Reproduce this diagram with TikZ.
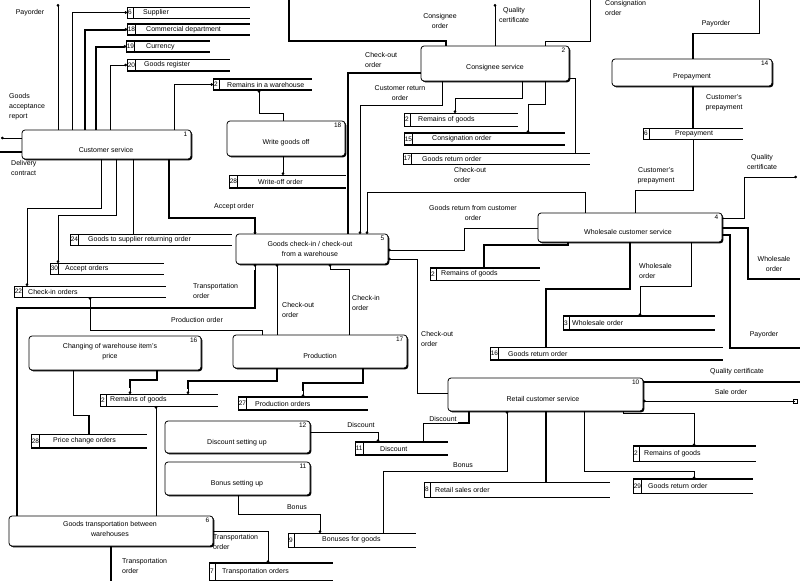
\documentclass[tikz,border=0pt]{standalone}
\usepackage{fontspec}
\setmainfont{Liberation Sans}
\usetikzlibrary{arrows.meta,shadows}
\tikzset{
  every node/.style={font=\fontsize{7}{10}\selectfont},
  procbox/.style={draw, line width=0.8pt, rounded corners=3pt, fill=white, inner sep=0pt, outer sep=0pt,
    drop shadow={shadow xshift=1.3pt, shadow yshift=-1.3pt, fill=black, opacity=1}},
  pnum/.style={inner sep=0.5pt, font=\fontsize{6.5}{7}\selectfont},
  ptext/.style={align=center, inner sep=0pt},
  storebox/.style={inner sep=0pt, outer sep=0pt},
  snum/.style={draw, line width=0.8pt, inner sep=0.8pt, outer sep=0pt, minimum width=6pt, font=\fontsize{6.5}{7}\selectfont},
  stext/.style={inner sep=0pt},
  lbl/.style={align=center, inner sep=0pt},
  lbll/.style={align=left, inner sep=0pt, anchor=north west},
  fl/.style={line width=0.8pt},
  flT/.style={line width=2pt},
  >={Circle[length=2.6pt]},
}
\newcommand\proc[6]{%
  \node[procbox, minimum width={#4pt-#2pt}, minimum height={#5pt-#3pt}, anchor=north west] (#1) at (#2,#3) {};
  \node[pnum, anchor=north east] (#1n) at ([xshift=-3pt,yshift=-1.5pt]#1.north east) {#6};}
\def\dstorelines#1#2\relax#3{%
  \draw[line width=#1] (#3.north west) -- (#3.north east);
  \draw[line width=#2] (#3.south west) -- (#3.south east);}
\newcommand\dstore[9]{%
  \node[storebox, minimum width={#4pt-#2pt}, minimum height={#5pt-#3pt}, anchor=north west] (#1) at (#2,#3) {};
  \node[snum, minimum height={#5pt-#3pt}, anchor=north west] (#1n) at (#1.north west) {#6};
  \node[stext, anchor=west] (#1t) at (#8,{(#3+#5)/2}) {#7};
  \dstorelines#9\relax{#1}}
\begin{document}
\begin{tikzpicture}[x=1pt,y=-1pt]
\useasboundingbox (0,0) rectangle (800,581);

% ---------- processes ----------
\proc{p1}{22}{130}{191}{159}{1}
\node[ptext] (p1t) at (106,150) {Customer service};
\proc{p2}{421}{46}{569}{81}{2}
\node[ptext] (p2t) at (495,68) {Consignee service};
\proc{p14}{612}{59}{772}{86}{14}
\node[ptext] (p14t) at (692,77) {Prepayment};
\proc{p18}{227}{121}{345}{156}{18}
\node[ptext] (p18t) at (286,143) {Write goods off};
\proc{p5}{236}{234}{388}{264}{5}
\node[ptext] (p5t) at (310,248.5) {Goods check-in / check-out\\from a warehouse};
\proc{p4}{538}{213}{722}{242}{4}
\node[ptext] (p4t) at (628,232) {Wholesale customer service};
\proc{p16}{29}{336}{201}{370}{16}
\node[ptext] (p16t) at (110,352) {Changing of warehouse item's\\price};
\proc{p17}{233}{335}{407}{368}{17}
\node[ptext] (p17t) at (320,356) {Production};
\proc{p10}{448}{378}{643}{411}{10}
\node[ptext] (p10t) at (543,399) {Retail customer service};
\proc{p12}{165}{421}{310}{453}{12}
\node[ptext] (p12t) at (237,443) {Discount setting up};
\proc{p11}{165}{462}{310}{495}{11}
\node[ptext] (p11t) at (237,484) {Bonus setting up};
\proc{p6}{9}{516}{213}{546}{6}
\node[ptext] (p6t) at (110,529) {Goods transportation between\\warehouses};

% ---------- data stores ----------
\dstore{s6}{127}{7}{250}{18}{6}{Supplier}{143}{{0.8pt}{0.8pt}}
\dstore{s18}{127}{24}{250}{35}{18}{Commercial department}{146}{{2pt}{2pt}}
\dstore{s19}{126}{41}{210}{52}{19}{Currency}{146}{{2pt}{2pt}}
\dstore{s20}{127}{59}{230}{71}{20}{Goods register}{144}{{0.8pt}{2pt}}
\dstore{s2a}{213}{79}{312}{90}{2}{Remains in a warehouse}{227}{{2pt}{2pt}}
\dstore{s28a}{229}{175}{346}{188}{28}{Write-off order}{258}{{0.8pt}{2pt}}
\dstore{s2b}{404}{113}{518}{126}{2}{Remains of goods}{418}{{0.8pt}{0.8pt}}
\dstore{s15}{404}{133}{565}{145}{15}{Consignation order}{432}{{2pt}{2pt}}
\dstore{s17}{403}{153}{590}{164}{17}{Goods return order}{422}{{0.8pt}{0.8pt}}
\dstore{s6p}{643}{128}{743}{139}{6}{Prepayment}{675}{{0.8pt}{0.8pt}}
\dstore{s24}{70}{234}{232}{245}{24}{Goods to supplier returning order}{88}{{0.8pt}{0.8pt}}
\dstore{s30}{50}{263}{164}{274}{30}{Accept orders}{65}{{0.8pt}{0.8pt}}
\dstore{s22}{14}{286}{166}{297}{22}{Check-in orders}{28}{{0.8pt}{0.8pt}}
\dstore{s2c}{430}{268}{540}{280}{2}{Remains of goods}{441}{{2pt}{0.8pt}}
\dstore{s3}{563}{316}{715}{330}{3}{Wholesale order}{572}{{2pt}{2pt}}
\dstore{s16}{490}{347}{723}{360}{16}{Goods return order}{508}{{0.8pt}{2pt}}
\dstore{s2d}{100}{394}{218}{406}{2}{Remains of goods}{110}{{0.8pt}{0.8pt}}
\dstore{s27}{238}{397}{368}{410}{27}{Production orders}{255}{{2pt}{2pt}}
\dstore{s28b}{31}{434}{147}{448}{28}{Price change orders}{53}{{0.8pt}{2pt}}
\dstore{s11}{355}{442}{448}{455}{11}{Discount}{380}{{2pt}{2pt}}
\dstore{s2e}{633}{446}{756}{461}{2}{Remains of goods}{644}{{2pt}{0.8pt}}
\dstore{s29}{633}{479}{753}{493}{29}{Goods return order}{648}{{2pt}{0.8pt}}
\dstore{s8}{424}{482}{610}{497}{8}{Retail sales order}{435}{{0.8pt}{0.8pt}}
\dstore{s9}{288}{533}{416}{547}{9}{Bonuses for goods}{322}{{0.8pt}{0.8pt}}
\dstore{s7}{209}{563}{333}{580}{7}{Transportation orders}{222}{{2pt}{0.8pt}}

% ---------- free ends ----------
\coordinate (e1) at (58,4);
\coordinate (e2) at (1,138);
\coordinate (e3) at (0,152);
\coordinate (e4) at (289,0);
\coordinate (e5) at (495,4);
\coordinate (e6) at (590,0);
\coordinate (e7) at (759,0);
\coordinate (e8) at (797,177);
\coordinate (e9) at (800,279);
\coordinate (e10) at (800,348);
\coordinate (e11) at (111,581);
\coordinate (e12) at (800,382);
\coordinate (e13) at (795,401);

% ---------- connectors: customer service ----------
\draw[fl,->] (p1.north -| 58,0) -- (e1);
\draw[fl,->] (p1.north -| 72,0) |- (s6.west);
\draw[flT,->] (p1.north -| 85,0) |- (s18.west);
\draw[flT,->] (p1.north -| 96,0) |- (s19.west);
\draw[fl,->] (p1.north -| 110,0) |- (s20.west);
\draw[fl,->] (p1.north -| 174,0) |- (s2a.west);
\draw[fl,->] (p1.west |- e2) -- (e2);
\draw[flT] (e3) -- (p1.west |- e3);
\draw[fl,->] (p1.south -| 101,0) -- (101,208) -- (27,208) -- (s22.north -| 27,0);
\draw[fl,->] (p1.south -| 116,0) -- (116,215) -- (58,215) -- (s30.north -| 58,0);
\draw[fl] (p1.south -| 133,0) -- (s24.north -| 133,0);
\draw[flT] (p1.south -| 169,0) -- (169,218) -- (255,218) -- (p5.north -| 255,0);
\draw[fl,->] (255,222) -- (p5.north -| 255,0);

% ---------- write goods off ----------
\draw[fl,->] (p18.north -| 283,0) -- (283,113) -- (259,113) -- (s2a.south -| 259,0);
\draw[fl,->] (p18.south -| 283,0) -- (s28a.north -| 283,0);

% ---------- consignee service ----------
\draw[flT] (e4) -- (289,41) -- (446,41) -- (p2.north -| 446,0);
\draw[fl,->] (p2.north -| 495,0) -- (e5);
\draw[fl] (e6) -- (590,41) -- (545,41) -- (p2.north -| 545,0);
\draw[flT] (p2.west |- 0,73) -- (348,73) -- (p5.north -| 348,0);
\draw[fl,->] (p2.south -| 442,0) -- (442,105) -- (360,105) -- (p5.north -| 360,0);
\draw[fl,->] (p2.south -| 522,0) -- (522,98) -- (455,98) -- (s2b.north -| 455,0);
\draw[fl,->] (p2.south -| 545,0) -- (545,104) -- (528,104) -- (s15.north -| 528,0);
\draw[fl] (p2.east |- 0,78) -- (575,78) -- (s17.north -| 575,0);

% ---------- prepayment ----------
\draw[fl] (e7) -- (759,33) -- (693,33);
\draw[flT] (693,33) -- (p14.north -| 693,0);
\draw[flT] (p14.south -| 693,0) -- (s6p.north -| 693,0);
\draw[fl] (s6p.south -| 693,0) -- (693,190) -- (635,190) -- (p4.north -| 635,0);

% ---------- wholesale ----------
\draw[fl,->] (p4.east |- 0,218) -- (744,218) -- (744,177) -- (e8);
\draw[flT] (p4.east |- 0,228) -- (748,228) -- (748,279) -- (e9);
\draw[flT] (p4.east |- 0,235) -- (730,235) -- (730,348) -- (e10);
\draw[flT] (p4.south -| 630,0) -- (630,289) -- (546,289) -- (s16.north -| 546,0);
\draw[fl,->] (p4.south -| 691,0) -- (691,286) -- (640,286) -- (s3.north -| 640,0);
\draw[flT] (p4.south -| 568,0) -- (568,245) -- (484,245) -- (s2c.north -| 484,0);
\draw[fl,->] (p4.north -| 585,0) -- (585,192) -- (367,192) -- (p5.north -| 367,0);
\draw[fl,->] (p4.west |- 0,228) -- (464,228) -- (464,250) -- (p5.east |- 0,250);

% ---------- warehouse ----------
\draw[fl,->] (p10.west |- 0,393) -- (417,393) -- (417,259) -- (p5.east |- 0,259);
\draw[fl,->] (p17.north -| 277,0) -- (p5.south -| 277,0);
\draw[fl,->] (p17.north -| 349,0) -- (349,269) -- (330,269) -- (p5.south -| 330,0);
\draw[flT] (p6.north -| 17,0) -- (17,308) -- (255,308) -- (255,270);
\draw[fl,->] (255,272) -- (p5.south -| 255,0);
\draw[fl,->] (p17.north -| 262,0) -- (262,330) -- (90,330) -- (s22.south -| 90,0);

% ---------- production & price ----------
\draw[flT] (p17.south -| 277,0) -- (277,381) -- (188,381) -- (188,389);
\draw[fl,->] (188,388) -- (s2d.north -| 188,0);
\draw[flT] (p17.south -| 363,0) -- (363,383) -- (303,383) -- (303,391);
\draw[fl,->] (303,390) -- (s27.north -| 303,0);
\draw[flT] (p16.south -| 157,0) -- (157,380) -- (130,380) -- (130,388);
\draw[fl,->] (130,387) -- (s2d.north -| 130,0);
\draw[fl] (p16.south -| 73,0) -- (73,415) -- (89,415);
\draw[flT] (89,415) -- (s28b.north -| 89,0);

% ---------- transportation ----------
\draw[fl,->] (p6.north -| 156,0) -- (s2d.south -| 156,0);
\draw[flT] (p6.south -| 111,0) -- (e11);
\draw[fl,->] (p6.east |- 0,531) -- (268,531) -- (s7.north -| 268,0);

% ---------- discount / bonus / retail ----------
\draw[fl,->] (p12.east |- 0,432) -- (378,432) -- (s11.north -| 378,0);
\draw[flT] (p10.south -| 469,0) -- (469,423) -- (458,423);
\draw[fl] (459,423) -- (423,423) -- (s11.north -| 423,0);
\draw[fl,->] (s9.north -| 383,0) -- (383,471) -- (507,471) -- (p10.south -| 507,0);
\draw[fl,->] (p11.south -| 238,0) -- (238,514) -- (320,514) -- (s9.north -| 320,0);
\draw[flT] (p10.south -| 546,0) -- (s8.north -| 546,0);
\draw[flT] (p10.east |- e12) -- (e12);
\draw[fl,->] (e13) -- (p10.east |- e13);
\draw[fl] ([xshift=-2pt,yshift=-2pt]e13) rectangle ([xshift=2pt,yshift=2pt]e13);
\draw[fl,->] (p10.south -| 623,0) -- (623,413) -- (694,413) -- (s2e.north -| 694,0);
\draw[fl,->] (p10.south -| 584,0) -- (584,471) -- (694,471) -- (s29.north -| 694,0);

% ---------- labels ----------
\node[lbl] (l1) at (30,13) {Payorder};
\node[lbll] (l2) at (9,93) {Goods\\acceptance\\report};
\node[lbll] (l3) at (11,160) {Delivery\\contract};
\node[lbl] (l4) at (440,21) {Consignee\\order};
\node[lbl] (l5) at (514,15) {Quality\\certificate};
\node[lbll] (l6) at (605,0) {Consignation\\order};
\node[lbl] (l7) at (716,24) {Payorder};
\node[lbll] (l8) at (365,52) {Check-out\\order};
\node[lbl] (l9) at (400,93) {Customer return\\order};
\node[lbll] (l10) at (454,167) {Check-out\\order};
\node[lbl] (l11) at (724,103) {Customer's\\prepayment};
\node[lbl] (l12) at (656,176) {Customer's\\prepayment};
\node[lbl] (l13) at (762,162) {Quality\\certificate};
\node[lbl] (l14) at (234,207) {Accept order};
\node[lbl] (l15) at (473,213) {Goods return from customer\\order};
\node[lbl] (l16) at (774,264) {Wholesale\\order};
\node[lbll] (l17) at (639,263) {Wholesale\\order};
\node[lbll] (l18) at (193,283) {Transportation\\order};
\node[lbl] (l19) at (197,320) {Production order};
\node[lbll] (l20) at (282,302) {Check-out\\order};
\node[lbll] (l21) at (352,295) {Check-in\\order};
\node[lbll] (l22) at (421,331) {Check-out\\order};
\node[lbl] (l23) at (764,335) {Payorder};
\node[lbl] (l24) at (737,372) {Quality certificate};
\node[lbl] (l25) at (731,392) {Sale order};
\node[lbl] (l26) at (361,425) {Discount};
\node[lbl] (l27) at (443,419) {Discount};
\node[lbl] (l28) at (463,465) {Bonus};
\node[lbl] (l29) at (297,507) {Bonus};
\node[lbll] (l30) at (213,534) {Transportation\\order};
\node[lbll] (l31) at (122,558) {Transportation\\order};
\end{tikzpicture}
\end{document}
